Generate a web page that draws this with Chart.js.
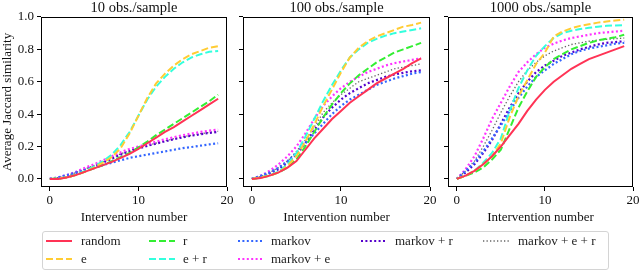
<!DOCTYPE html>
<html>
<head>
<meta charset="utf-8">
<script src="https://cdn.jsdelivr.net/npm/chart.js@4"></script>
<style>
  body { margin: 0; background: #fff; }
  #wrap { position: relative; width: 640px; height: 271px; overflow: hidden; font-family: "Liberation Serif", serif; }
  canvas { position: absolute; top: 0; }
  #legend { position: absolute; left: 42px; top: 231px; width: 565px; height: 37px; border: 1px solid #d4d4d4; border-radius: 3px; }
  .item { position: absolute; height: 16px; font-size: 13px; line-height: 16px; color: #222; white-space: nowrap; }
  .item svg { position: absolute; left: 0; top: 0; }
  .item span { position: absolute; }
</style>
</head>
<body>
<div id="wrap">
  <canvas id="p1" width="236" height="232" style="left:0px"></canvas>
  <canvas id="p2" width="204" height="232" style="left:232px"></canvas>
  <canvas id="p3" width="204" height="232" style="left:436px"></canvas>
  <div id="legend"></div>
</div>
<script>
// intervention number (x)
const steps = [0, 1, 2, 3, 4, 5, 6, 7, 8, 9, 10, 11, 12, 13, 14, 15, 16, 17, 18, 19];
const yTicks = [0, 0.2, 0.4, 0.6, 0.8, 1.0];
const xTicks = [0, 10, 20];

const methods = ['random', 'e', 'r', 'e + r', 'markov', 'markov + e', 'markov + r', 'markov + e + r'];
const colors = ['#ff3355', '#ffcc33', '#33ee33', '#33ffdd', '#3366ff', '#ff33ff', '#5500cc', '#666666'];
const dashes = [[], [7, 3], [7, 3], [7, 3], [2, 2.4], [2, 2.4], [2, 2.4], [1.3, 2.2]];
const widths = [2, 2, 2, 2, 2.2, 2.2, 2.2, 1.3];

// 10 obs./sample
const random10 = [0, 0, 0.01, 0.025, 0.045, 0.065, 0.085, 0.105, 0.13, 0.155, 0.185, 0.22, 0.255, 0.29, 0.32, 0.355, 0.39, 0.425, 0.46, 0.495];
const e10 = [0, 0.003, 0.01, 0.025, 0.045, 0.07, 0.1, 0.135, 0.19, 0.28, 0.39, 0.5, 0.59, 0.65, 0.7, 0.74, 0.77, 0.79, 0.81, 0.82];
const r10 = [0, 0.002, 0.01, 0.025, 0.045, 0.065, 0.085, 0.11, 0.135, 0.16, 0.195, 0.23, 0.27, 0.305, 0.34, 0.375, 0.41, 0.445, 0.48, 0.52];
const er10 = [0, 0.003, 0.012, 0.028, 0.05, 0.077, 0.11, 0.15, 0.21, 0.29, 0.39, 0.49, 0.57, 0.63, 0.68, 0.72, 0.75, 0.77, 0.785, 0.79];
const markov10 = [0, 0.01, 0.025, 0.04, 0.055, 0.07, 0.085, 0.1, 0.115, 0.13, 0.14, 0.15, 0.16, 0.17, 0.18, 0.19, 0.197, 0.205, 0.213, 0.22];
const markovE10 = [0, 0.01, 0.025, 0.045, 0.07, 0.09, 0.115, 0.14, 0.165, 0.185, 0.2, 0.215, 0.23, 0.245, 0.258, 0.27, 0.28, 0.29, 0.298, 0.305];
const markovR10 = [0, 0.008, 0.02, 0.038, 0.058, 0.078, 0.1, 0.125, 0.15, 0.17, 0.188, 0.204, 0.218, 0.232, 0.245, 0.257, 0.267, 0.276, 0.284, 0.29];
const markovER10 = [0, 0.008, 0.022, 0.04, 0.062, 0.083, 0.106, 0.13, 0.155, 0.175, 0.192, 0.207, 0.221, 0.235, 0.248, 0.26, 0.27, 0.279, 0.287, 0.294];

// 100 obs./sample
const random100 = [0, 0.005, 0.02, 0.04, 0.07, 0.11, 0.18, 0.25, 0.31, 0.37, 0.42, 0.47, 0.51, 0.55, 0.59, 0.62, 0.65, 0.68, 0.715, 0.745];
const e100 = [0, 0.01, 0.02, 0.04, 0.08, 0.14, 0.23, 0.335, 0.45, 0.553, 0.657, 0.75, 0.81, 0.85, 0.88, 0.9, 0.92, 0.94, 0.95, 0.965];
const r100 = [0, 0.008, 0.02, 0.04, 0.07, 0.12, 0.2, 0.29, 0.38, 0.46, 0.53, 0.59, 0.64, 0.68, 0.72, 0.75, 0.78, 0.8, 0.82, 0.84];
const er100 = [0, 0.01, 0.022, 0.045, 0.09, 0.16, 0.26, 0.37, 0.48, 0.58, 0.67, 0.75, 0.8, 0.84, 0.865, 0.885, 0.9, 0.91, 0.92, 0.93];
const markov100 = [0, 0.02, 0.04, 0.07, 0.11, 0.16, 0.22, 0.28, 0.34, 0.4, 0.45, 0.49, 0.52, 0.55, 0.58, 0.6, 0.62, 0.635, 0.65, 0.66];
const markovE100 = [0, 0.02, 0.05, 0.09, 0.14, 0.2, 0.28, 0.37, 0.45, 0.51, 0.56, 0.6, 0.63, 0.66, 0.68, 0.7, 0.715, 0.725, 0.735, 0.745];
const markovR100 = [0, 0.015, 0.035, 0.06, 0.1, 0.15, 0.22, 0.3, 0.38, 0.44, 0.49, 0.53, 0.56, 0.59, 0.61, 0.63, 0.645, 0.655, 0.665, 0.67];
const markovER100 = [0, 0.015, 0.04, 0.07, 0.11, 0.17, 0.24, 0.32, 0.41, 0.47, 0.52, 0.56, 0.6, 0.62, 0.64, 0.66, 0.68, 0.69, 0.7, 0.71];

// 1000 obs./sample
const random1000 = [0, 0.02, 0.05, 0.09, 0.14, 0.2, 0.27, 0.34, 0.42, 0.49, 0.55, 0.6, 0.64, 0.68, 0.71, 0.74, 0.76, 0.78, 0.8, 0.82];
const e1000 = [0, 0.02, 0.05, 0.09, 0.14, 0.22, 0.38, 0.51, 0.61, 0.71, 0.78, 0.88, 0.91, 0.93, 0.945, 0.955, 0.965, 0.972, 0.978, 0.983];
const r1000 = [0, 0.02, 0.04, 0.07, 0.12, 0.18, 0.31, 0.44, 0.54, 0.63, 0.69, 0.74, 0.77, 0.8, 0.82, 0.84, 0.855, 0.865, 0.875, 0.89];
const er1000 = [0, 0.02, 0.05, 0.1, 0.16, 0.25, 0.42, 0.56, 0.67, 0.76, 0.82, 0.87, 0.9, 0.915, 0.925, 0.933, 0.94, 0.945, 0.948, 0.95];
const markov1000 = [0, 0.05, 0.1, 0.17, 0.25, 0.33, 0.42, 0.5, 0.57, 0.63, 0.67, 0.71, 0.74, 0.77, 0.79, 0.805, 0.815, 0.825, 0.835, 0.84];
const markovE1000 = [0, 0.06, 0.14, 0.25, 0.37, 0.47, 0.57, 0.66, 0.72, 0.77, 0.81, 0.835, 0.855, 0.87, 0.88, 0.89, 0.9, 0.905, 0.91, 0.915];
const markovR1000 = [0, 0.04, 0.09, 0.16, 0.24, 0.34, 0.44, 0.53, 0.6, 0.66, 0.7, 0.73, 0.76, 0.78, 0.8, 0.815, 0.83, 0.84, 0.845, 0.85];
const markovER1000 = [0, 0.05, 0.11, 0.2, 0.3, 0.41, 0.51, 0.6, 0.67, 0.72, 0.76, 0.79, 0.81, 0.83, 0.84, 0.85, 0.858, 0.862, 0.866, 0.87];

const panels = [
  { id: 'p1', title: '10 obs./sample', yWidth: 41, padRight: 9, labels: true,
    series: [random10, e10, r10, er10, markov10, markovE10, markovR10, markovER10] },
  { id: 'p2', title: '100 obs./sample', yWidth: 11, padRight: 6, labels: false,
    series: [random100, e100, r100, er100, markov100, markovE100, markovR100, markovER100] },
  { id: 'p3', title: '1000 obs./sample', yWidth: 12, padRight: 7, labels: false,
    series: [random1000, e1000, r1000, er1000, markov1000, markovE1000, markovR1000, markovER1000] }
];

const serif = '"Liberation Serif", "DejaVu Serif", serif';

// full box around the plot area
const frame = {
  id: 'frame',
  afterDraw(chart) {
    const a = chart.chartArea, c = chart.ctx;
    c.save();
    c.strokeStyle = '#000';
    c.lineWidth = 1;
    c.strokeRect(Math.round(a.left) + 0.5, Math.round(a.top) + 0.5,
      Math.round(a.right - a.left) - 1, Math.round(a.bottom - a.top) - 1);
    c.restore();
  }
};

panels.forEach(p => {
  new Chart(document.getElementById(p.id), {
    type: 'line',
    data: {
      datasets: p.series.map((vals, k) => ({
        label: methods[k],
        data: vals.map((v, i) => ({ x: steps[i], y: v })),
        borderColor: colors[k],
        borderWidth: widths[k],
        borderDash: dashes[k],
        borderCapStyle: 'butt',
        pointRadius: 0,
        tension: 0,
        fill: false
      }))
    },
    options: {
      responsive: false,
      animation: false,
      events: [],
      layout: { padding: { top: 0, left: 0, right: p.padRight, bottom: 0 } },
      plugins: {
        legend: { display: false },
        tooltip: { enabled: false },
        title: {
          display: true,
          fullSize: false,
          text: p.title,
          color: '#111',
          font: { family: serif, size: 14.5, weight: 'normal', lineHeight: 1.17 },
          padding: { top: 0, bottom: 0 }
        }
      },
      scales: {
        x: {
          type: 'linear',
          min: -1,
          max: 20,
          afterBuildTicks: s => { s.ticks = xTicks.map(v => ({ value: v })); },
          afterFit: s => { s.height = 45; s.paddingLeft = 0; s.paddingRight = 0; },
          grid: { display: true, drawOnChartArea: false, drawTicks: true, tickLength: 4, color: '#000' },
          border: { display: false },
          ticks: { color: '#111', font: { family: serif, size: 13 }, padding: 2, maxRotation: 0 },
          title: {
            display: true,
            text: 'Intervention number',
            color: '#111',
            font: { family: serif, size: 13, lineHeight: 1.2 },
            padding: { top: 0, bottom: 7 }
          }
        },
        y: {
          min: -0.05,
          max: 1.0,
          afterBuildTicks: s => { s.ticks = yTicks.map(v => ({ value: v })); },
          afterFit: s => { s.width = p.yWidth; s.paddingTop = 0; s.paddingBottom = 0; },
          grid: { display: true, drawOnChartArea: false, drawTicks: true, tickLength: 4, color: '#000' },
          border: { display: false },
          ticks: {
            display: p.labels,
            color: '#111',
            font: { family: serif, size: 13 },
            padding: 3,
            callback: v => v.toFixed(1)
          },
          title: {
            display: p.labels,
            text: 'Average Jaccard similarity',
            color: '#111',
            font: { family: serif, size: 13, lineHeight: 1.2 },
            padding: { top: 0, bottom: 0 }
          }
        }
      }
    },
    plugins: [frame]
  });
});

// legend below the panels (column, row for each method)
const legendCol = [0, 0, 1, 1, 2, 2, 3, 4];
const legendRow = [0, 1, 0, 1, 0, 1, 0, 0];
const legendText = [81, 183, 271, 395, 518];
const legendLine = [45, 148, 237, 360, 482];
const legendY = [241, 259];
const legend = document.getElementById('legend');
methods.forEach((name, k) => {
  const col = legendCol[k], row = legendRow[k];
  const item = document.createElement('div');
  item.className = 'item';
  item.style.left = (legendLine[col] - 43) + 'px';
  item.style.top = (legendY[row] - 232 - 8) + 'px';
  const dash = dashes[k].length ? dashes[k].join(' ') : 'none';
  item.innerHTML =
    '<svg width="28" height="16"><line x1="1" y1="8" x2="27" y2="8" stroke="' + colors[k] +
    '" stroke-width="' + widths[k] + '" stroke-dasharray="' + dash + '"/></svg>' +
    '<span style="left:' + (legendText[col] - legendLine[col]) + 'px">' + name + '</span>';
  legend.appendChild(item);
});
</script>
</body>
</html>
